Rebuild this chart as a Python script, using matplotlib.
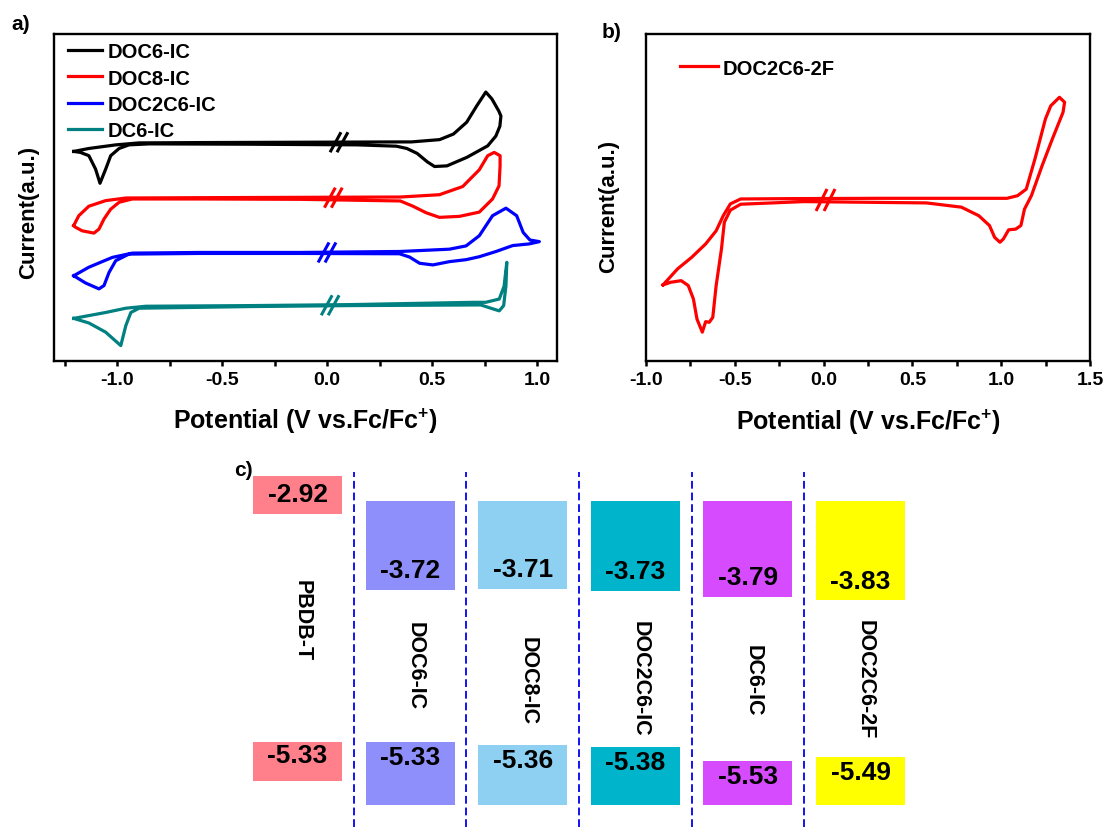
import numpy as np
import matplotlib
matplotlib.use('Agg')
import matplotlib.pyplot as plt
from matplotlib.patches import Rectangle
from matplotlib.ticker import MultipleLocator, FormatStrFormatter

plt.rcParams['font.family'] = ['Liberation Sans', 'DejaVu Sans']
plt.rcParams['font.weight'] = 'bold'
plt.rcParams['axes.unicode_minus'] = False
plt.rcParams['mathtext.fontset'] = 'custom'
plt.rcParams['mathtext.rm'] = 'Liberation Sans:bold'
plt.rcParams['mathtext.bf'] = 'Liberation Sans:bold'

# cyclic voltammograms: potential (V vs Fc/Fc+) and current (a.u., curves stacked)
doc6_v = [-1.206, -1.134, -1.006, -0.895, -0.608, -0.129, 0.349, 0.402, 0.536, 0.602,
          0.665, 0.713, 0.756, 0.785, 0.818, 0.828, 0.823, 0.804, 0.765, 0.666,
          0.571, 0.512, 0.478, 0.429, 0.380, 0.330, 0.144, -0.368, -0.847, -0.943,
          -0.990, -1.030, -1.054, -1.081, -1.102, -1.134, -1.174, -1.206]
doc6_i = [6.36, 6.45, 6.56, 6.62, 6.63, 6.64, 6.65, 6.65, 6.72, 6.89,
          7.25, 7.75, 8.17, 7.96, 7.59, 7.44, 7.13, 6.83, 6.53, 6.18,
          5.92, 5.90, 6.04, 6.30, 6.45, 6.52, 6.56, 6.58, 6.59, 6.56,
          6.45, 6.23, 5.82, 5.39, 5.82, 6.23, 6.33, 6.36]

doc8_v = [-1.206, -1.182, -1.134, -1.054, -0.958, -0.608, -0.129, 0.349, 0.535, 0.646,
          0.725, 0.765, 0.796, 0.824, 0.824, 0.819, 0.788, 0.725, 0.630, 0.535,
          0.472, 0.409, 0.349, -0.129, -0.608, -0.927, -0.990, -1.030, -1.062, -1.086,
          -1.110, -1.166, -1.198, -1.206]
doc8_i = [4.10, 4.40, 4.69, 4.86, 4.94, 4.95, 4.96, 4.97, 5.04, 5.29,
          5.80, 6.23, 6.33, 6.23, 5.92, 5.31, 4.91, 4.51, 4.38, 4.35,
          4.49, 4.69, 4.85, 4.90, 4.91, 4.91, 4.81, 4.60, 4.30, 3.99,
          3.87, 3.94, 4.05, 4.10]

doc2c6_v = [-1.206, -1.134, -1.022, -0.927, -0.608, -0.129, 0.349, 0.583, 0.662, 0.725,
            0.788, 0.852, 0.903, 0.934, 0.966, 1.011, 0.962, 0.884, 0.805, 0.725,
            0.662, 0.583, 0.504, 0.441, 0.393, 0.345, -0.129, -0.608, -0.943, -1.006,
            -1.038, -1.062, -1.086, -1.150, -1.206]
doc2c6_i = [2.57, 2.83, 3.13, 3.26, 3.28, 3.28, 3.31, 3.38, 3.48, 3.79,
            4.40, 4.63, 4.40, 3.89, 3.66, 3.61, 3.54, 3.49, 3.31, 3.15,
            3.06, 3.00, 2.90, 2.95, 3.14, 3.24, 3.25, 3.25, 3.23, 3.03,
            2.67, 2.27, 2.17, 2.35, 2.57]

dc6_v = [-1.206, -1.054, -0.958, -0.863, -0.368, 0.110, 0.700, 0.756, 0.820, 0.843,
         0.856, 0.852, 0.841, 0.820, 0.780, 0.732, 0.110, -0.368, -0.895, -0.934,
         -0.958, -0.982, -1.054, -1.134, -1.206]
dc6_i = [1.27, 1.45, 1.58, 1.64, 1.66, 1.69, 1.76, 1.76, 1.86, 2.25,
         2.98, 2.27, 1.66, 1.50, 1.58, 1.68, 1.66, 1.63, 1.58, 1.45,
         1.05, 0.44, 0.85, 1.13, 1.27]

f2_v = [-0.904, -0.822, -0.743, -0.664, -0.605, -0.565, -0.525, -0.467, -0.200, 0.300,
        0.800, 1.032, 1.092, 1.141, 1.190, 1.249, 1.279, 1.328, 1.357, 1.348,
        1.288, 1.230, 1.170, 1.131, 1.111, 1.081, 1.042, 1.012, 0.993, 0.963,
        0.934, 0.874, 0.776, 0.579, -0.111, -0.467, -0.525, -0.559, -0.575, -0.605,
        -0.624, -0.644, -0.664, -0.683, -0.713, -0.733, -0.762, -0.802, -0.861, -0.904]
f2_i = [2.32, 2.81, 3.16, 3.57, 3.97, 4.43, 4.79, 4.94, 4.95, 4.96,
        4.96, 4.96, 5.04, 5.24, 6.16, 7.38, 7.78, 8.04, 7.89, 7.58,
        6.77, 5.95, 5.04, 4.63, 4.13, 4.02, 4.00, 3.72, 3.62, 3.77,
        4.13, 4.43, 4.69, 4.82, 4.86, 4.78, 4.60, 4.23, 3.42, 2.30,
        1.33, 1.18, 1.20, 0.88, 1.28, 1.89, 2.30, 2.45, 2.40, 2.32]

cv_names = ['DOC6-IC', 'DOC8-IC', 'DOC2C6-IC', 'DC6-IC']
cv_colors = ['black', '#ff0000', '#0000ff', '#008080']
# where the "//" axis-break marks sit on each trace
break_v = [0.057, 0.030, 0.000, 0.015]
break_i = [6.64, 4.95, 3.28, 1.67]

# energy levels (eV)
materials = ['PBDB-T', 'DOC6-IC', 'DOC8-IC', 'DOC2C6-IC', 'DC6-IC', 'DOC2C6-2F']
lumo = [-2.92, -3.72, -3.71, -3.73, -3.79, -3.83]
homo = [-5.33, -5.33, -5.36, -5.38, -5.53, -5.49]
box_colors = ['#ff7f8a', '#8f8ffc', '#8dd0f2', '#00b5cb', '#d54bfd', '#ffff00']


def break_mark(ax, v, i, color, dx, dy, gap):
    for off in (-gap / 2, gap / 2):
        ax.plot([v + off - dx / 2, v + off + dx / 2], [i - dy / 2, i + dy / 2],
                color=color, lw=2.2, solid_capstyle='butt')


def style_cv(ax, xlim, ylim):
    ax.set_xlim(*xlim)
    ax.set_ylim(*ylim)
    ax.set_yticks([])
    ax.xaxis.set_major_locator(MultipleLocator(0.5))
    ax.xaxis.set_minor_locator(MultipleLocator(0.25))
    ax.xaxis.set_major_formatter(FormatStrFormatter('%.1f'))
    ax.tick_params(axis='x', which='both', direction='out', length=3.5, width=1.8,
                   pad=4, labelsize=14)
    for s in ax.spines.values():
        s.set_linewidth(1.7)
    ax.set_xlabel('Potential (V vs.Fc/Fc$^{+}$)', fontsize=18, fontweight='bold',
                  labelpad=13)


fig = plt.figure(figsize=(11.04, 8.37), dpi=100)

# a) CV of the IC series
ax1 = fig.add_axes([54 / 1104, 1 - 361.7 / 837, 503 / 1104, 326.7 / 837])
curves = [(doc6_v, doc6_i), (doc8_v, doc8_i), (doc2c6_v, doc2c6_i), (dc6_v, dc6_i)]
for (v, i), name, c in zip(curves, cv_names, cv_colors):
    ax1.plot(v, i, color=c, lw=2.3, label=name, solid_joinstyle='round')
for v, i, c in zip(break_v, break_i, cv_colors):
    break_mark(ax1, v, i, c, 0.052, 0.61, 0.033)
style_cv(ax1, (-1.3, 1.095), (-0.02, 9.94))
ax1.legend(loc='upper left', bbox_to_anchor=(0.028, 0.974), frameon=False,
           fontsize=14.5, handlelength=1.7, handletextpad=0.25, labelspacing=0.35,
           borderpad=0, borderaxespad=0)

# b) CV of DOC2C6-2F
ax2 = fig.add_axes([646 / 1104, 1 - 362 / 837, 444 / 1104, 327 / 837])
ax2.plot(f2_v, f2_i, color='#ff0000', lw=2.3, label='DOC2C6-2F', solid_joinstyle='round')
break_mark(ax2, 0.011, 4.91, '#ff0000', 0.062, 0.67, 0.045)
style_cv(ax2, (-1.0, 1.5), (0, 9.97))
ax2.legend(loc='upper left', bbox_to_anchor=(0.077, 0.925), frameon=False,
           fontsize=14.5, handlelength=1.9, handletextpad=0.2,
           borderpad=0, borderaxespad=0)

fig.text(28.6 / 1104, 1 - 212 / 837, 'Current(a.u.)', rotation=90, fontsize=16,
         ha='center', va='center')
fig.text(609 / 1104, 1 - 206 / 837, 'Current(a.u.)', rotation=90, fontsize=16,
         ha='center', va='center')

# c) energy level diagram
ax3 = fig.add_axes([240 / 1104, 2 / 837, 680 / 1104, 370 / 837])
ax3.set_xlim(-0.511, 5.528)
ax3.set_ylim(-6.305, -2.385)
ax3.axis('off')
w = 0.79
name_y = [-4.03, -4.51, -4.67, -4.65, -4.67, -4.66]
for k, (name, lu, ho, c) in enumerate(zip(materials, lumo, homo, box_colors)):
    if k == 0:
        ax3.add_patch(Rectangle((k - w / 2, lu), w, 0.41, color=c, lw=0))
        ax3.add_patch(Rectangle((k - w / 2, ho - 0.41), w, 0.41, color=c, lw=0))
        ax3.text(k, lu + 0.215, f'{lu:.2f}', fontsize=19, ha='center', va='center')
        ax3.text(k, ho - 0.14, f'{ho:.2f}', fontsize=19, ha='center', va='center')
    else:
        ax3.add_patch(Rectangle((k - w / 2, lu), w, -2.78 - lu, color=c, lw=0))
        ax3.add_patch(Rectangle((k - w / 2, -6.0), w, ho + 6.0, color=c, lw=0))
        ax3.text(k, lu + 0.21, f'{lu:.2f}', fontsize=19, ha='center', va='center')
        ax3.text(k, ho - 0.16, f'{ho:.2f}', fontsize=19, ha='center', va='center')
    ax3.text(k + 0.044, name_y[k], name, fontsize=15.5, rotation=-90,
             ha='center', va='center')
for k in range(len(materials) - 1):
    ax3.plot([k + 0.5, k + 0.5], [-6.23, -2.47], color='#1414f0', lw=1.4,
             ls=(0, (4, 2)))

fig.text(21 / 1104, 1 - 25 / 837, 'a)', fontsize=15, ha='center', va='center')
fig.text(612 / 1104, 1 - 33 / 837, 'b)', fontsize=15, ha='center', va='center')
fig.text(243 / 1104, 1 - 470 / 837, 'c)', fontsize=15, ha='center', va='center')

fig.savefig('out.png', dpi=100)
